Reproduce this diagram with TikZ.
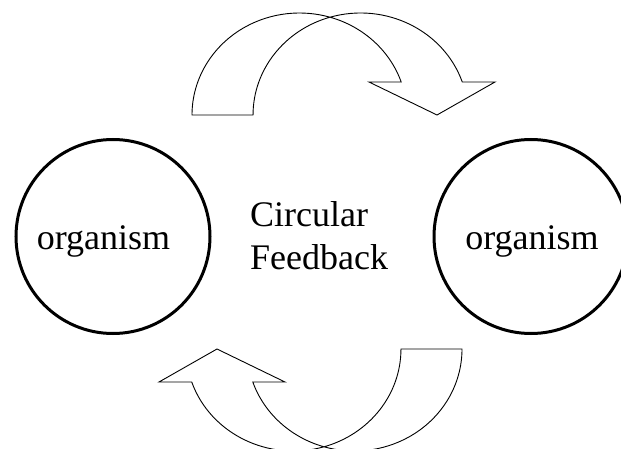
\documentclass[tikz,border=0pt]{standalone}
\usepackage{fontspec}
\setmainfont{Liberation Serif}

\tikzset{
    ring/.style={draw, circle, line width=3pt, minimum size=194pt, inner sep=0pt},
    word/.style={font=\fontsize{36}{43}\selectfont, inner sep=0pt},
    bentarrow/.pic={
        \draw[line width=0.9pt, x radius=107.5, y radius=102]
            (192, 333) arc[start angle=180, end angle=73.5]
            arc[start angle=106.5, end angle=18.87]
            -- (495, 366) -- (437, 333) -- (369, 366) -- (401.2, 366)
            arc[start angle=18.87, end angle=73.5]
            arc[start angle=106.5, end angle=180] -- cycle;
    }
}

\begin{document}
\begin{tikzpicture}[x=1pt, y=1pt]
            \clip (0, 0) rectangle (621, 448);

            \node[ring] (leftring) at (113, 211.5) {};
            \node[ring] (rightring) at (531, 211.5) {};
            \node[word, anchor=base] (leftname) at (103.5, 199) {organism};
            \node[word, anchor=base] (rightname) at (532, 199) {organism};

            \node[word, anchor=base west] (circular) at (250, 222) {Circular};
            \node[word, anchor=base west] (feedback) at (250, 179) {Feedback};

            \pic at (0, 0) {bentarrow};
            \pic[rotate=180] at (654, 432) {bentarrow};
        \end{tikzpicture}
\end{document}
